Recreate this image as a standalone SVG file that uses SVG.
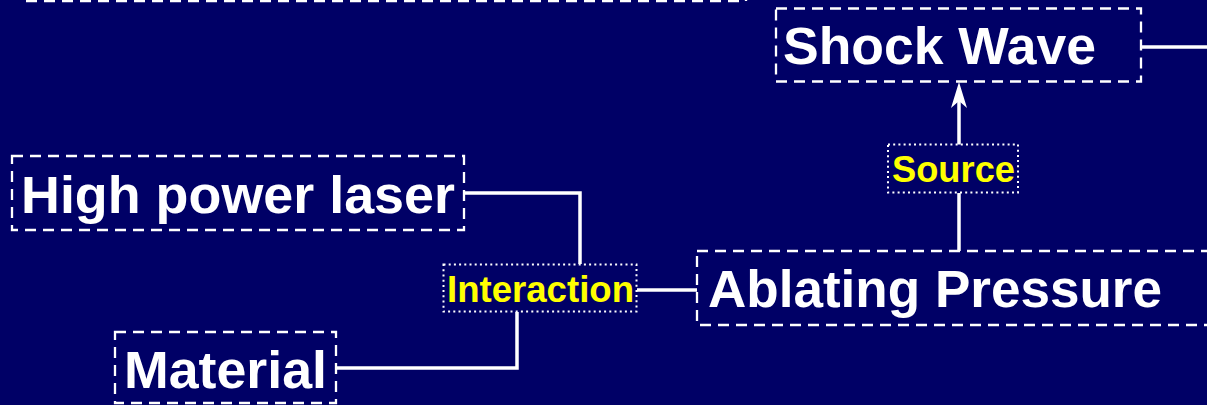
<svg xmlns="http://www.w3.org/2000/svg" width="1207" height="405" viewBox="0 0 1207 405">
  <style>
    .bg { fill: #000066; }
    .node { fill: none; stroke: #ffffff; stroke-width: 2.3; stroke-dasharray: 11 7; }
    .tag { fill: #000066; stroke: #ffffff; stroke-width: 2; stroke-dasharray: 2 3.2; }
    .title { font-family: "Liberation Sans", Arial, sans-serif; font-weight: bold; font-size: 51px; fill: #ffffff; }
    .label { font-family: "Liberation Sans", Arial, sans-serif; font-weight: bold; font-size: 36px; fill: #ffff00; }
    .link { fill: none; stroke: #ffffff; stroke-width: 3.5; }
  </style>

  <rect class="bg" x="0" y="0" width="1207" height="405"/>

  <!-- box running off the top edge -->
  <g id="top-box">
    <rect class="node" x="24" y="-80" width="722" height="81"/>
  </g>

  <g id="connectors">
    <path class="link" d="M464 193 H580 V264"/>
    <path class="link" d="M336 368 H517 V312"/>
    <path class="link" d="M637 290 H697"/>
    <path class="link" d="M959 193 V251"/>
    <path class="link" d="M1141 47 H1207"/>
    <path class="link" d="M959 145 V100"/>
    <path d="M959 82 L967 108 L959 101 L951 108 Z" fill="#ffffff"/>
  </g>

  <g id="shock-wave">
    <rect class="node" x="776" y="8.5" width="365" height="73"/>
    <text class="title" x="783" y="64" textLength="313" lengthAdjust="spacingAndGlyphs">Shock Wave</text>
  </g>

  <g id="high-power-laser">
    <rect class="node" x="12" y="156" width="452" height="74"/>
    <text class="title" x="21" y="213" textLength="434" lengthAdjust="spacingAndGlyphs">High power laser</text>
  </g>

  <g id="interaction">
    <rect class="tag" x="443.5" y="264.5" width="193" height="47"/>
    <text class="label" x="447" y="302" textLength="187" lengthAdjust="spacingAndGlyphs">Interaction</text>
  </g>

  <g id="source">
    <rect class="tag" x="888" y="144.5" width="130" height="48"/>
    <text class="label" x="892" y="182" textLength="123" lengthAdjust="spacingAndGlyphs">Source</text>
  </g>

  <g id="ablating-pressure">
    <rect class="node" x="697" y="251" width="600" height="74"/>
    <text class="title" x="708" y="307" textLength="454" lengthAdjust="spacingAndGlyphs">Ablating Pressure</text>
  </g>

  <g id="material">
    <rect class="node" x="115" y="332" width="221" height="71"/>
    <text class="title" x="124" y="388" textLength="203" lengthAdjust="spacingAndGlyphs">Material</text>
  </g>
</svg>
